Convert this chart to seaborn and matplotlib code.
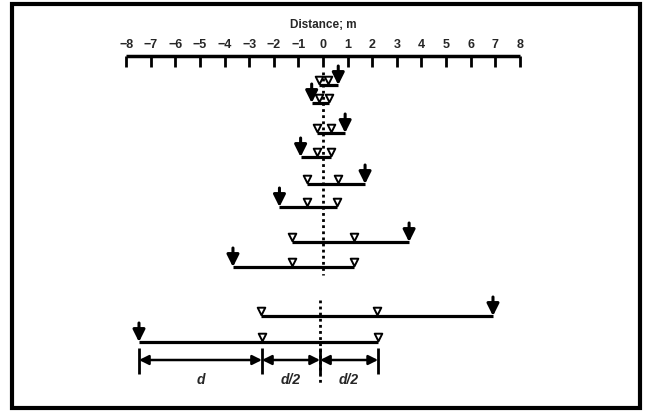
import numpy as np
import pandas as pd
import matplotlib
matplotlib.use("Agg")
import matplotlib.pyplot as plt
import seaborn as sns
from matplotlib.patches import Rectangle

# distances in metres
ticks = list(range(-8, 9))
arrow_x = [0.62, -0.46, 0.90, -0.91, 1.71, -1.77, 3.50, -3.66, 6.91, -7.48]
tri_left = [-0.18, -0.16, -0.23, -0.26, -0.65, -0.65, -1.27, -1.27, -2.52, -2.48]
tri_right = [0.20, 0.26, 0.32, 0.31, 0.62, 0.58, 1.24, 1.24, 2.20, 2.24]
dim_marks = [-7.48, -2.48, -0.12, 2.24]
dim_labels = ["d", "d/2", "d/2"]
lower_center = -0.12

# layout (pixel rows of the drawing)
row_y = [85, 103, 133, 157, 184, 207, 242, 267, 316, 342]

sns.set_style("white")
plt.rcParams["font.family"] = ["Liberation Sans", "DejaVu Sans"]

fig = plt.figure(figsize=(6.45, 4.11), dpi=100)
ax = fig.add_axes([0, 0, 1, 1])
x0, scale = 323, 24.6

# frame
ax.add_patch(Rectangle((12 / 645, 1 - 408 / 411), 628 / 645, 404 / 411,
                       transform=ax.transAxes, fill=False, lw=3, ec="black"))

# ruler
ax.text(0, 25, "Distance; m", ha="center", va="center", fontsize=8.5, fontweight="bold")
ax.hlines(56, ticks[0], ticks[-1], color="black", lw=2.5)
ax.vlines(ticks, 56, 67, color="black", lw=2)
for t in ticks:
    lab = str(t).replace("-", "\u2212")
    ax.text(t, 45, lab, ha="center", va="center", fontsize=9, fontweight="bold")

# centre lines
ax.vlines(0, 72, 275, color="black", lw=2, linestyles=(0, (1, 1.2)))
ax.vlines(lower_center, 300, 384, color="black", lw=2, linestyles=(0, (1, 1.2)))

# rows
for y, a, l, r in zip(row_y, arrow_x, tri_left, tri_right):
    ax.hlines(y, min(a, l), max(a, r), color="black", lw=2.3)
    ax.annotate("", xy=(a, y), xytext=(a, y - 19),
                arrowprops=dict(arrowstyle="-|>", color="black", lw=2.2,
                                mutation_scale=18, shrinkA=0, shrinkB=0))

tri = pd.DataFrame({
    "x": tri_left + tri_right,
    "y": [y - 5 for y in row_y] * 2,
})
sns.scatterplot(data=tri, x="x", y="y", marker="v", s=30, color="white",
                edgecolor="black", linewidth=1.4, ax=ax, zorder=5, legend=False)
ax.set_xlim((0 - x0) / scale, (645 - x0) / scale)
ax.set_ylim(411, 0)
ax.axis("off")

# dimension line
ax.vlines(dim_marks, 348, 374, color="black", lw=2)
for i, lab in enumerate(dim_labels):
    a, b = dim_marks[i], dim_marks[i + 1]
    ax.annotate("", xy=(b, 360), xytext=(a, 360),
                arrowprops=dict(arrowstyle="<|-|>", color="black", lw=1.8,
                                mutation_scale=14, shrinkA=0, shrinkB=0))
    ax.text((a + b) / 2, 380, lab, ha="center", va="center", fontsize=10,
            fontweight="bold", fontstyle="italic")

fig.savefig("out.png", dpi=100)
